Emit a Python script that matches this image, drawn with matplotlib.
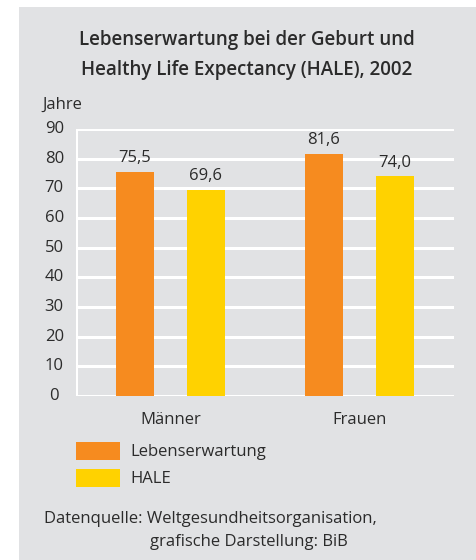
import matplotlib
matplotlib.use("Agg")
import matplotlib.pyplot as plt
from matplotlib.patches import Rectangle
import numpy as np

plt.rcParams['font.family'] = ['Open Sans', 'DejaVu Sans']

categories = ["Männer", "Frauen"]
lebenserwartung = [75.5, 81.6]
hale = [69.6, 74.0]
value_labels_le = ["75,5", "81,6"]
value_labels_hale = ["69,6", "74,0"]
yticks = [0, 10, 20, 30, 40, 50, 60, 70, 80, 90]
series_names = ["Lebenserwartung", "HALE"]

ORANGE = "#F68B1F"
YELLOW = "#FFD200"
PANEL = "#E1E2E4"
TEXT = "#2B2B2B"
FS = 12.0

W, H = 476, 560
fig = plt.figure(figsize=(W / 100, H / 100), dpi=100)
fig.patch.set_facecolor("white")

def fx(px):
    return px / W

def fy(py):
    return 1 - py / H

# grey backdrop panel
bg = fig.add_axes([fx(19), 0, 1 - fx(19), 1 - 7 / H], zorder=0)
bg.set_facecolor(PANEL)
bg.set_xticks([])
bg.set_yticks([])
for s in bg.spines.values():
    s.set_visible(False)

fig.text(fx(247), fy(40), "Lebenserwartung bei der Geburt und",
         ha="center", va="center", fontsize=13.5, fontweight="semibold", color=TEXT, zorder=5)
fig.text(fx(247), fy(70), "Healthy Life Expectancy (HALE), 2002",
         ha="center", va="center", fontsize=13.5, fontweight="semibold", color=TEXT, zorder=5)
fig.text(fx(42), fy(105), "Jahre", ha="left", va="center", fontsize=FS, color=TEXT, zorder=5)

ax_l, ax_r, ax_t, ax_b = 76, 454, 129, 396
ax = fig.add_axes([fx(ax_l), fy(ax_b), fx(ax_r - ax_l), (ax_b - ax_t) / H], zorder=2)
ax.set_facecolor("none")
ax.set_xlim(-0.5, 1.5)
ax.set_ylim(0, 90)

x = np.arange(len(categories))
off = 0.1875
bw = 0.2
ax.bar(x - off, lebenserwartung, width=bw, color=ORANGE, zorder=3)
ax.bar(x + off, hale, width=bw, color=YELLOW, zorder=3)

for xi, v, s in zip(x - off, lebenserwartung, value_labels_le):
    ax.text(xi, v + 2.0, s, ha="center", va="bottom", fontsize=FS, color=TEXT)
for xi, v, s in zip(x + off, hale, value_labels_hale):
    ax.text(xi, v + 2.0, s, ha="center", va="bottom", fontsize=FS, color=TEXT)

for t in yticks:
    ax.axhline(t, color="white", lw=2.2, zorder=1)
    ax.text(-0.615, t, str(t), ha="center", va="center", fontsize=FS,
            color=TEXT, transform=ax.transData, clip_on=False)
ax.axvline(-0.5, color="white", lw=2.2, zorder=1)

ax.set_xticks([])
ax.set_yticks([])
for s in ax.spines.values():
    s.set_visible(False)

for xi, c in zip(x, categories):
    ax.text(xi, -8.0, c, ha="center", va="center", fontsize=FS, color=TEXT, clip_on=False)

# legend
for i, (name, col) in enumerate(zip(series_names, [ORANGE, YELLOW])):
    top = 442 + i * 27
    bg.add_patch(Rectangle((fx(76), fy(top + 18)), fx(44), 18 / H,
                           transform=fig.transFigure, facecolor=col,
                           edgecolor="none", zorder=2))
    fig.text(fx(130), fy(top + 10), name, ha="left", va="center",
             fontsize=FS, color=TEXT, zorder=5)

fig.text(fx(44), fy(519), "Datenquelle: Weltgesundheitsorganisation,",
         ha="left", va="center", fontsize=FS, color=TEXT, zorder=5)
fig.text(fx(150), fy(542), "grafische Darstellung: BiB",
         ha="left", va="center", fontsize=FS, color=TEXT, zorder=5)

fig.savefig("out.png", dpi=100, facecolor=fig.get_facecolor())
